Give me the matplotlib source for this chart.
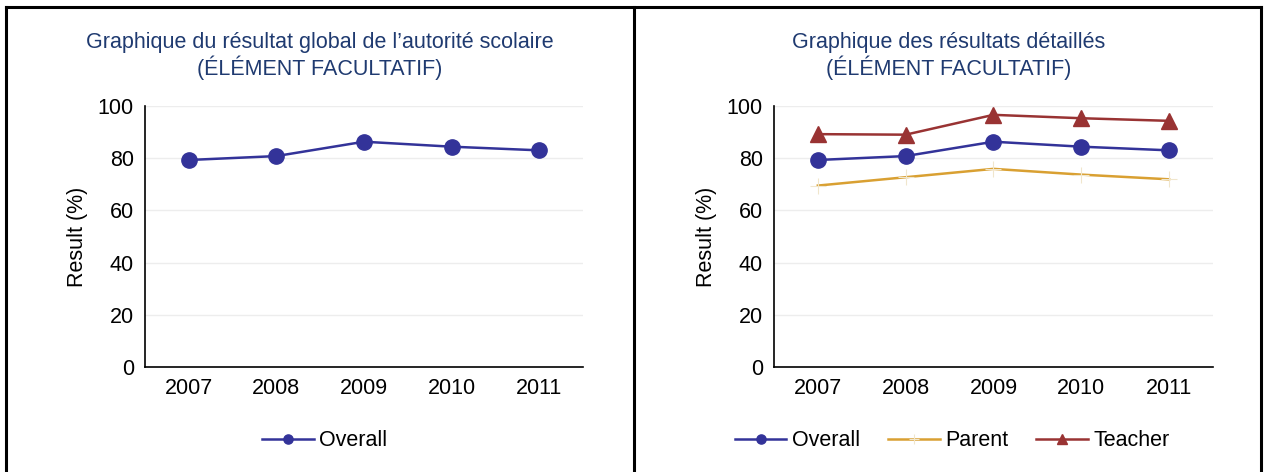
import matplotlib.pyplot as plt
from matplotlib.lines import Line2D

plt.rcParams['font.family'] = ['Liberation Sans', 'DejaVu Sans']

years = ["2007", "2008", "2009", "2010", "2011"]
overall = [79.3, 80.8, 86.3, 84.4, 83.0]
parent = [69.5, 72.7, 75.9, 73.7, 71.9]
teacher = [89.2, 89.0, 96.6, 95.3, 94.3]

title_left = "Graphique du résultat global de l’autorité scolaire\n(ÉLÉMENT FACULTATIF)"
title_right = "Graphique des résultats détaillés\n(ÉLÉMENT FACULTATIF)"

c_overall = "#333399"
c_parent = "#D9A032"
c_teacher = "#993333"
c_title = "#1F3A70"
fs = 15.5

fig = plt.figure(figsize=(12.64, 4.72), dpi=100)
ax1 = fig.add_axes([0.1147, 0.2225, 0.3465, 0.553])
ax2 = fig.add_axes([0.6123, 0.2225, 0.3473, 0.553])

x = range(len(years))


def style(ax):
    ax.set_ylim(0, 100)
    ax.set_xlim(-0.5, len(years) - 0.5)
    ax.set_yticks(range(0, 101, 20))
    ax.set_xticks(list(x))
    ax.set_xticklabels(years)
    ax.tick_params(length=0, labelsize=fs, pad=8)
    ax.grid(axis="y", color="#EDEDED", linewidth=1)
    ax.set_axisbelow(True)
    for s in ("top", "right"):
        ax.spines[s].set_visible(False)
    for s in ("left", "bottom"):
        ax.spines[s].set_linewidth(1.2)
    ax.set_ylabel("Result (%)", fontsize=fs, labelpad=7)


ax1.plot(x, overall, color=c_overall, lw=1.8, marker="o", ms=11, label="Overall")
style(ax1)

ax2.plot(x, overall, color=c_overall, lw=1.8, marker="o", ms=11, label="Overall")
ax2.plot(x, parent, color=c_parent, lw=1.8, marker="+", ms=12,
         mec="#F0E6CC", mew=0.8, label="Parent")
ax2.plot(x, teacher, color=c_teacher, lw=1.8, marker="^", ms=11, label="Teacher")
style(ax2)

fig.text(320 / 1264, 1 - 56 / 472, title_left, ha="center", va="center",
         fontsize=fs, color=c_title, linespacing=1.1)
fig.text(949 / 1264, 1 - 56 / 472, title_right, ha="center", va="center",
         fontsize=fs, color=c_title, linespacing=1.1)

leg_kw = dict(loc="center", frameon=False, fontsize=fs, markerscale=0.6,
              handlelength=2.4, handletextpad=0.25, columnspacing=1.3)
h1, l1 = ax1.get_legend_handles_labels()
fig.legend(h1, l1, bbox_to_anchor=(325 / 1264, 1 - 441 / 472), **leg_kw)
h2, l2 = ax2.get_legend_handles_labels()
fig.legend(h2, l2, bbox_to_anchor=(952 / 1264, 1 - 441 / 472), ncol=3, **leg_kw)

# outer frame and divider
for xs, ys in [([0.005, 0.005], [0, 0.986]),
               ([0.9975, 0.9975], [0, 0.986]),
               ([0.005, 0.9975], [0.986, 0.986]),
               ([0.5016, 0.5016], [0, 0.986])]:
    fig.add_artist(Line2D(xs, ys, color="black", lw=2.2, transform=fig.transFigure))

fig.savefig("out.png", dpi=100)
